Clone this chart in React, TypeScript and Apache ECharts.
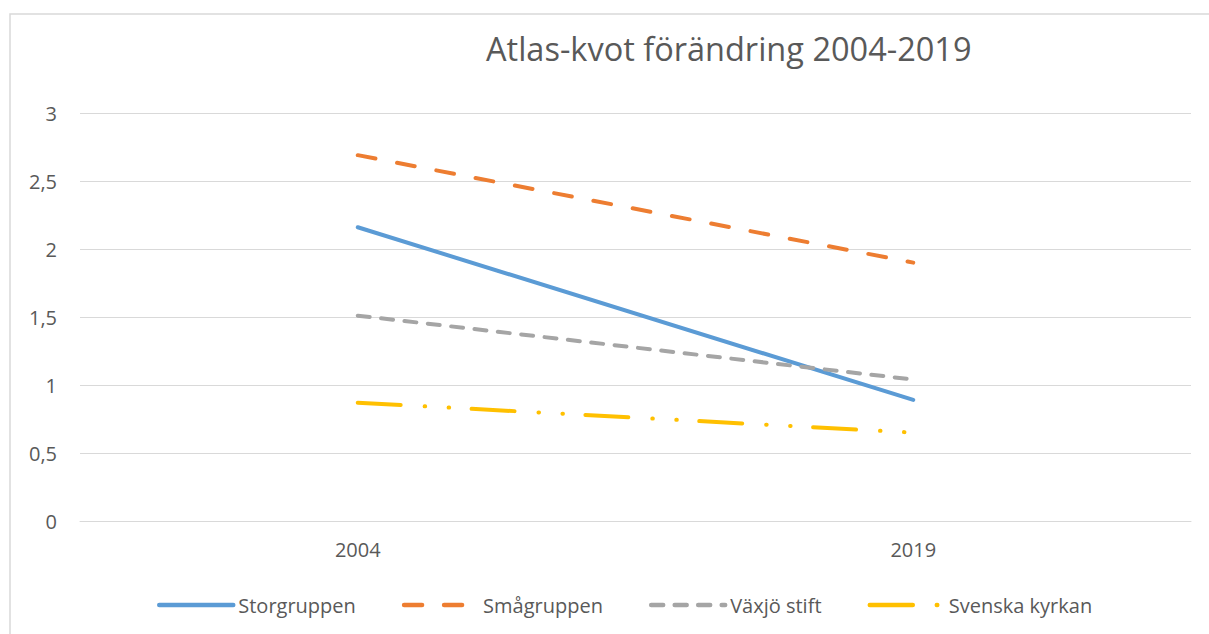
import React, { useEffect, useRef } from "react";
import * as echarts from "echarts";

const categories = ["2004", "2019"];
const storgruppen = [2.16, 0.89];
const smagruppen = [2.69, 1.9];
const vaxjoStift = [1.51, 1.04];
const svenskaKyrkan = [0.87, 0.65];
const yTicks = [0, 0.5, 1, 1.5, 2, 2.5, 3];

const FONT = "'Open Sans', 'Noto Sans', sans-serif";

export default function App() {
  const ref = useRef<HTMLDivElement>(null);
  useEffect(() => {
    if (!ref.current) return;
    const chart = echarts.init(ref.current, null, { renderer: "svg" });
    const mk = (name: string, data: number[], color: string, type: any) => ({
      name,
      type: "line",
      data,
      symbol: "none",
      lineStyle: { color, width: 4, type, cap: "round", join: "round" },
      itemStyle: { color },
    });
    chart.setOption({
      animation: false,
      backgroundColor: "#ffffff",
      textStyle: { fontFamily: FONT },
      title: {
        text: "Atlas-kvot förändring 2004-2019",
        left: 481,
        top: 27,
        textStyle: { fontFamily: FONT, fontSize: 32.5, fontWeight: "normal", color: "#595959" },
      },
      graphic: [
        {
          type: "rect",
          shape: { x: 10, y: 14, width: 1400, height: 800 },
          style: { fill: "none", stroke: "#d9d9d9", lineWidth: 1.5 },
          silent: true,
          z: -10,
        },
      ],
      grid: { left: 80, right: 18, top: 113, bottom: 113, containLabel: false },
      xAxis: {
        type: "category",
        data: categories,
        boundaryGap: true,
        axisLine: { show: true, lineStyle: { color: "#d9d9d9", width: 1 } },
        axisTick: { show: false },
        axisLabel: { color: "#595959", fontSize: 20, margin: 18, fontFamily: FONT },
      },
      yAxis: {
        type: "value",
        min: 0,
        max: 3,
        interval: 0.5,
        axisLine: { show: false },
        axisTick: { show: false },
        splitLine: { lineStyle: { color: "#d9d9d9", width: 1 } },
        axisLabel: {
          color: "#595959",
          fontSize: 20,
          margin: 23,
          fontFamily: FONT,
          formatter: (v: number) => (yTicks.includes(v) ? String(v).replace(".", ",") : ""),
        },
      },
      legend: {
        top: 590,
        left: 152,
        itemWidth: 74,
        itemHeight: 14,
        itemGap: 46,
        itemStyle: { opacity: 0 },
        lineStyle: { width: 4.5, cap: "round" },
        textStyle: { color: "#595959", fontSize: 20, fontFamily: FONT },
        data: ["Storgruppen", "Smågruppen", "Växjö stift", "Svenska kyrkan"],
      },
      series: [
        mk("Storgruppen", storgruppen, "#5B9BD5", "solid"),
        mk("Smågruppen", smagruppen, "#ED7D31", [18, 22]),
        mk("Växjö stift", vaxjoStift, "#A5A5A5", [12, 11.5]),
        mk("Svenska kyrkan", svenskaKyrkan, "#FFC000", [43, 24, 0.5, 23.5, 0.5, 22.5]),
      ],
    });
    return () => chart.dispose();
  }, []);
  return (
    <div
      ref={ref}
      style={{ position: "fixed", left: 0, top: 0, width: 1209, height: 634, background: "#fff" }}
    />
  );
}
